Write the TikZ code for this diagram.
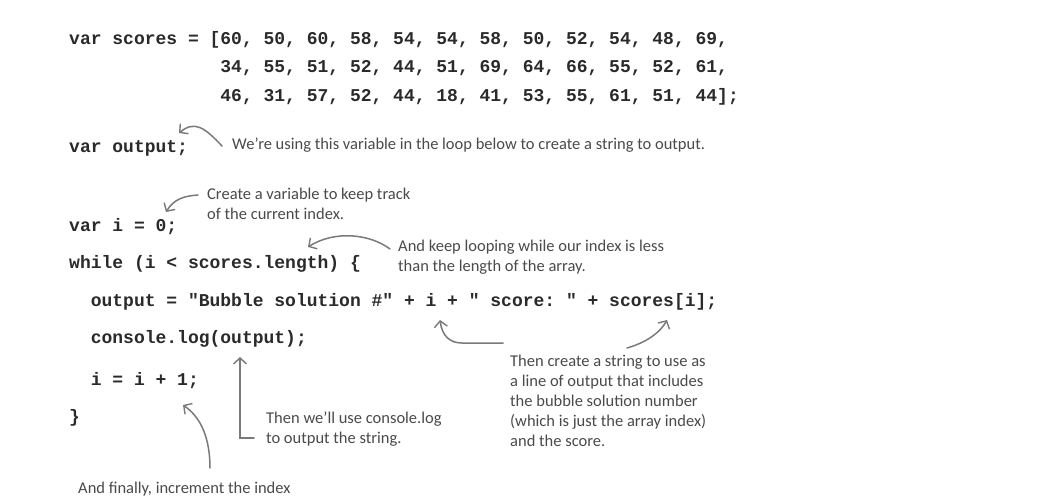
\documentclass[tikz,border=0pt]{standalone}
\usepackage{fontspec}
\setmainfont{Carlito}
\setmonofont{Liberation Mono}
\usetikzlibrary{arrows.meta}
\definecolor{codeink}{HTML}{2A2A2A}
\definecolor{noteink}{HTML}{4A4A4A}
\definecolor{arrowink}{HTML}{7A7A7A}
\tikzset{
  code/.style={anchor=base west, inner sep=0pt, text=codeink,
    font=\fontsize{18}{18}\selectfont\ttfamily\bfseries},
  note/.style={anchor=north west, inner sep=0pt, align=left, text=noteink,
    font=\fontsize{16.5}{20}\selectfont},
  notearrow/.style={draw=arrowink, line width=1.5pt, line cap=round,
    -{Straight Barb[length=6pt,width=13pt,line width=1.4pt]}}
}
\begin{document}
\begin{tikzpicture}[x=1pt,y=-1pt]
\useasboundingbox[fill=white] (0,0) rectangle (1062,502);
% code
\node[code] (l1) at (69,45) {var scores = [60, 50, 60, 58, 54, 54, 58, 50, 52, 54, 48, 69,};
\node[code] (l2) at (69,73) {\phantom{var scores = [}34, 55, 51, 52, 44, 51, 69, 64, 66, 55, 52, 61,};
\node[code] (l3) at (69,102) {\phantom{var scores = [}46, 31, 57, 52, 44, 18, 41, 53, 55, 61, 51, 44];};
\node[code] (l4) at (69,153) {var output;};
\node[code] (l5) at (69,232) {var i = 0;};
\node[code] (l6) at (69,269) {while (i < scores.length) \{};
\node[code] (l7) at (69,307) {\phantom{xx}output = "Bubble solution \#" + i + " score: " + scores[i];};
\node[code] (l8) at (69,344) {\phantom{xx}console.log(output);};
\node[code] (l9) at (69,385) {\phantom{xx}i = i + 1;};
\node[code] (l10) at (69,422) {\}};
% notes
\node[note] (n1) at (232,138) {We're using this variable in the loop below to create a string to output.};
\node[note] (n2) at (207,188) {Create a variable to keep track\\of the current index.};
\node[note] (n3) at (398,240) {And keep looping while our index is less\\than the length of the array.};
\node[note] (n4) at (510,355) {Then create a string to use as\\a line of output that includes\\the bubble solution number\\(which is just the array index)\\and the score.};
\node[note] (n5) at (266,412) {Then we'll use console.log\\to output the string.};
\node[note] (n6) at (78,482) {And finally, increment the index};
% arrow endpoints
\coordinate (a1s) at (222,146); \coordinate (a1t) at (179,133);
\coordinate (a2s) at (198,195); \coordinate (a2t) at (166,212);
\coordinate (a3s) at (390,249); \coordinate (a3t) at (308,247);
\coordinate (a4s) at (503,343); \coordinate (a4t) at (440,320);
\coordinate (a5s) at (627,348); \coordinate (a5t) at (667,320);
\coordinate (a6s) at (254,438); \coordinate (a6t) at (240,357);
\coordinate (a7s) at (210,468); \coordinate (a7t) at (183,405);
\draw[notearrow] (a1s) .. controls (205,128) and (195,120) .. (a1t);
\draw[notearrow] (a2s) .. controls (184,196) and (174,199) .. (a2t);
\draw[notearrow] (a3s) .. controls (370,234) and (335,230) .. (a3t);
\draw[notearrow] (a4s) -- (462,343) .. controls (450,343) and (442,336) .. (a4t);
\draw[notearrow] (a5s) .. controls (645,343) and (660,333) .. (a5t);
\draw[notearrow] (a6s) -- (240,438) -- (a6t);
\draw[notearrow] (a7s) .. controls (210,440) and (202,418) .. (a7t);
\end{tikzpicture}
\end{document}
